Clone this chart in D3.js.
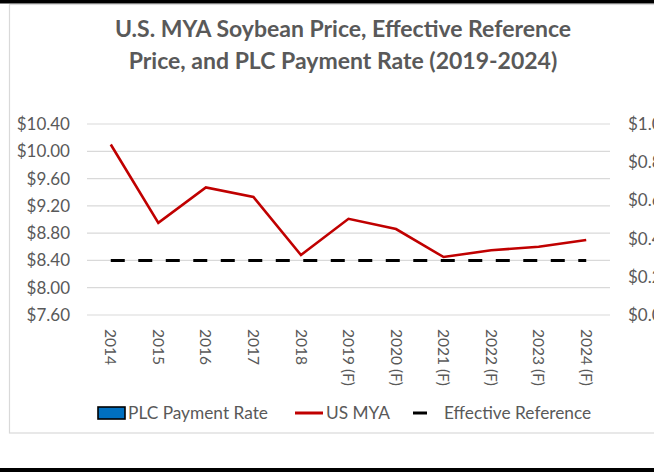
<!DOCTYPE html>
<html>
<head>
<meta charset="utf-8">
<script src="https://cdn.jsdelivr.net/npm/d3@7"></script>
<style>
  html, body { margin: 0; padding: 0; background: #fff; }
  svg { display: block; }
  text { font-family: Lato, "Open Sans", sans-serif; fill: #595959; }
</style>
</head>
<body>
<svg id="chart" width="654" height="472"></svg>
<script>
// chart values
var years = ["2014", "2015", "2016", "2017", "2018", "2019 (F)", "2020 (F)", "2021 (F)", "2022 (F)", "2023 (F)", "2024 (F)"];
var usMya = [10.10, 8.95, 9.47, 9.33, 8.48, 9.01, 8.86, 8.45, 8.55, 8.60, 8.70];
var effectiveRef = [8.40, 8.40, 8.40, 8.40, 8.40, 8.40, 8.40, 8.40, 8.40, 8.40, 8.40];
var plcRate = [0, 0, 0, 0, 0, 0, 0, 0, 0, 0, 0];
var priceTicks = [7.60, 8.00, 8.40, 8.80, 9.20, 9.60, 10.00, 10.40];
var rateTicks = [0, 0.2, 0.4, 0.6, 0.8, 1.0];
var titleLines = ["U.S. MYA Soybean Price, Effective Reference", "Price, and PLC Payment Rate (2019-2024)"];
var legendItems = ["PLC Payment Rate", "US MYA", "Effective Reference"];

var svg = d3.select("#chart");

var plot = { left: 87, right: 610, top: 124, bottom: 315 };

var x = d3.scaleBand()
  .domain(years)
  .range([plot.left, plot.right])
  .paddingInner(0.5)
  .paddingOuter(0.25);

var y = d3.scaleLinear()
  .domain([7.60, 10.40])
  .range([plot.bottom, plot.top]);

var yRate = d3.scaleLinear()
  .domain([0, 1])
  .range([plot.bottom, plot.top]);

function cx(d) { return x(d) + x.bandwidth() / 2; }

// outer frame: black rules and light chart border
svg.append("rect")
  .attr("x", 9.5).attr("y", 4.5)
  .attr("width", 700).attr("height", 428.5)
  .attr("fill", "none")
  .attr("stroke", "#d9d9d9")
  .attr("stroke-width", 1.2);

svg.append("rect")
  .attr("x", 0).attr("y", 0)
  .attr("width", 654).attr("height", 3.5)
  .attr("fill", "#000");

svg.append("rect")
  .attr("x", 0).attr("y", 468)
  .attr("width", 654).attr("height", 4)
  .attr("fill", "#000");

// title
svg.append("g")
  .selectAll("text")
  .data(titleLines)
  .enter().append("text")
  .attr("x", 343)
  .attr("y", function(d, i) { return 36.5 + i * 32; })
  .attr("text-anchor", "middle")
  .style("font-size", "23px")
  .style("font-weight", "bold")
  .text(function(d) { return d; });

// gridlines
svg.append("g")
  .selectAll("line")
  .data(priceTicks)
  .enter().append("line")
  .attr("x1", plot.left).attr("x2", plot.right)
  .attr("y1", function(d) { return y(d); })
  .attr("y2", function(d) { return y(d); })
  .attr("stroke", "#d9d9d9")
  .attr("stroke-width", 1.2);

// left axis
var leftAxis = svg.append("g")
  .attr("transform", "translate(" + (plot.left - 17) + ",0)")
  .call(d3.axisLeft(y)
    .tickValues(priceTicks)
    .tickSize(0)
    .tickPadding(0)
    .tickFormat(function(d) { return "$" + d.toFixed(2); }));
leftAxis.select(".domain").remove();
leftAxis.selectAll("text")
  .style("font-size", "17px")
  .style("font-family", "Lato, sans-serif")
  .attr("fill", "#595959");

// right axis (runs off the right edge, as in the source)
var rightAxis = svg.append("g")
  .attr("transform", "translate(628,0)")
  .call(d3.axisRight(yRate)
    .tickValues(rateTicks)
    .tickSize(0)
    .tickPadding(0)
    .tickFormat(function(d) { return "$" + d.toFixed(2); }));
rightAxis.select(".domain").remove();
rightAxis.selectAll("text")
  .style("font-size", "17px")
  .style("font-family", "Lato, sans-serif")
  .attr("fill", "#595959");

// category labels, rotated
svg.append("g")
  .selectAll("text")
  .data(years)
  .enter().append("text")
  .attr("transform", function(d) { return "translate(" + cx(d) + ",329) rotate(90)"; })
  .attr("dy", "0.35em")
  .style("font-size", "15.5px")
  .text(function(d) { return d; });

// PLC payment rate bars (all zero)
svg.append("g")
  .selectAll("rect")
  .data(plcRate)
  .enter().append("rect")
  .attr("x", function(d, i) { return x(years[i]); })
  .attr("y", function(d) { return yRate(d); })
  .attr("width", x.bandwidth())
  .attr("height", function(d) { return plot.bottom - yRate(d); })
  .attr("fill", "#0070c0");

// effective reference, dashed
var priceLine = d3.line()
  .x(function(d, i) { return cx(years[i]); })
  .y(function(d) { return y(d); });

svg.append("path")
  .datum(effectiveRef)
  .attr("d", priceLine)
  .attr("fill", "none")
  .attr("stroke", "#000")
  .attr("stroke-width", 3)
  .attr("stroke-dasharray", "14,13.5");

// US MYA price line
svg.append("path")
  .datum(usMya)
  .attr("d", priceLine)
  .attr("fill", "none")
  .attr("stroke", "#c00000")
  .attr("stroke-width", 2.6)
  .attr("stroke-linejoin", "miter");

// legend
var legend = svg.append("g");
legend.append("rect")
  .attr("x", 98).attr("y", 407)
  .attr("width", 27).attr("height", 12)
  .attr("fill", "#0070c0")
  .attr("stroke", "#000")
  .attr("stroke-width", 1.6);
legend.append("line")
  .attr("x1", 295).attr("x2", 323)
  .attr("y1", 413).attr("y2", 413)
  .attr("stroke", "#c00000").attr("stroke-width", 3);
legend.append("line")
  .attr("x1", 413).attr("x2", 427)
  .attr("y1", 413).attr("y2", 413)
  .attr("stroke", "#000").attr("stroke-width", 3);

var legendX = [128, 326, 444];
legend.selectAll("text")
  .data(legendItems)
  .enter().append("text")
  .attr("x", function(d, i) { return legendX[i]; })
  .attr("y", 419)
  .style("font-size", "17.3px")
  .text(function(d) { return d; });
</script>
</body>
</html>
